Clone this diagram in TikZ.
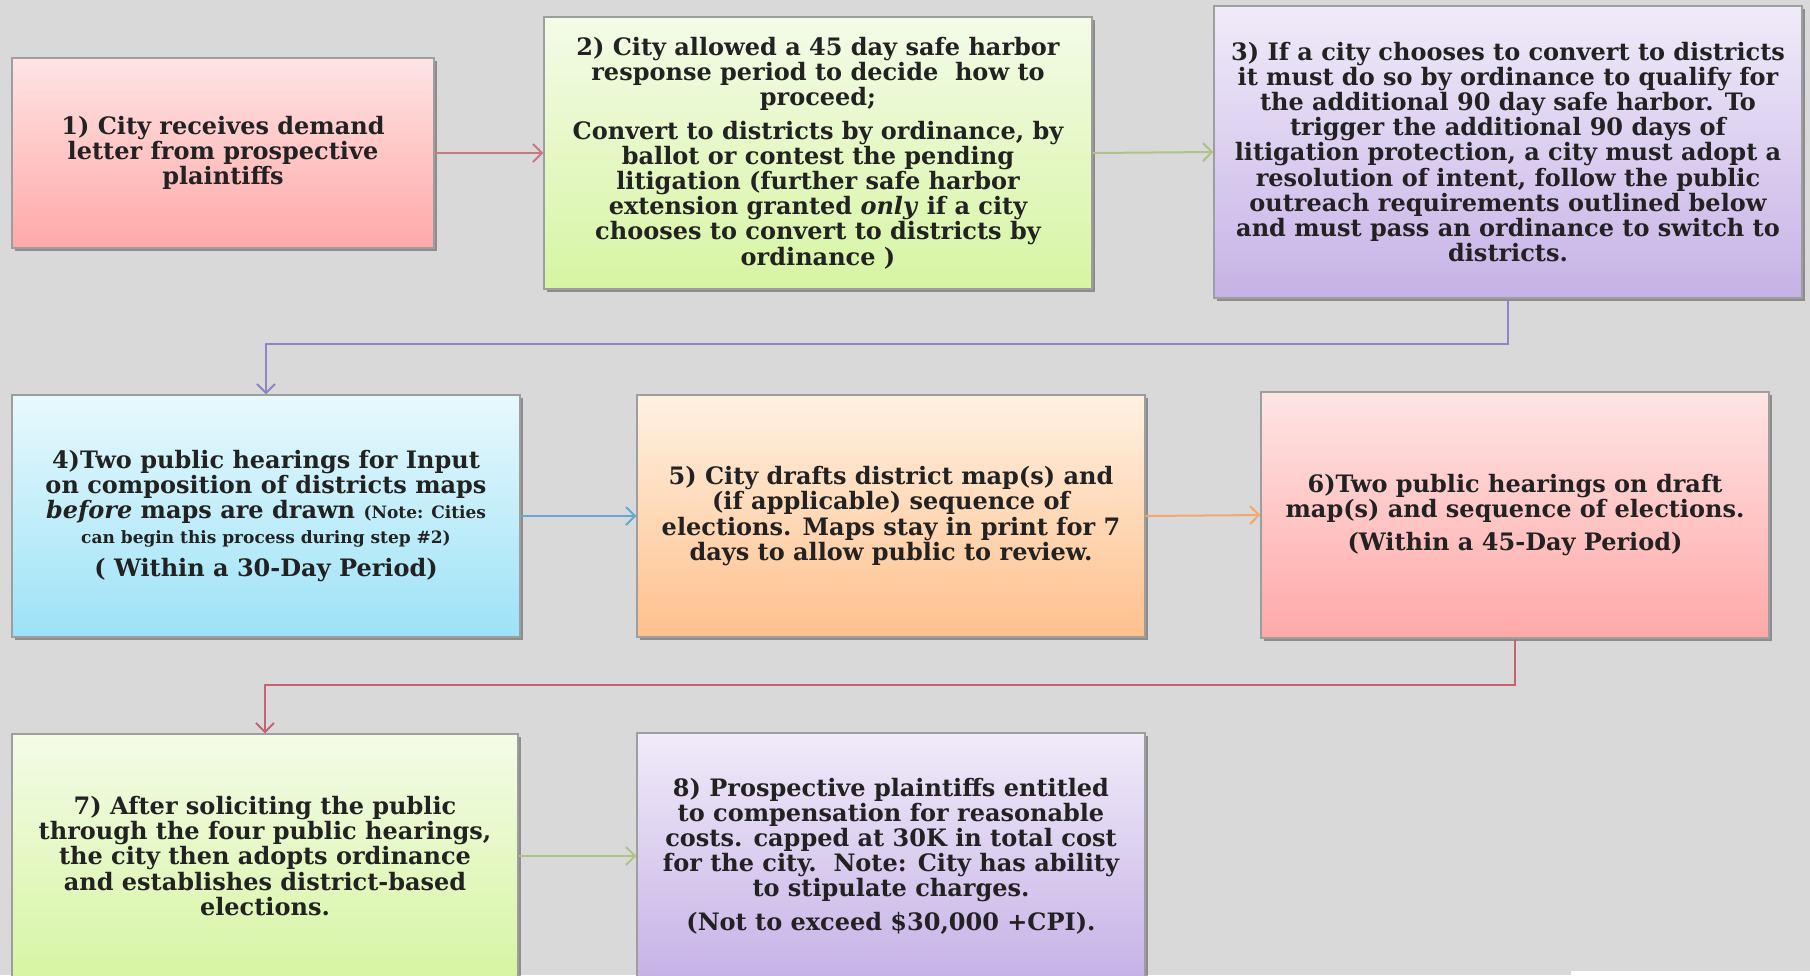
\documentclass[tikz,border=0pt]{standalone}
\usepackage{fontspec}
\setmainfont{DejaVu Serif}
\usetikzlibrary{arrows.meta,shadows}
\definecolor{bg}{HTML}{D9D9D9}
\definecolor{txt}{HTML}{222222}
\definecolor{pinkT}{HTML}{FFE4E4}
\definecolor{pinkB}{HTML}{FFA8A8}
\definecolor{greenT}{HTML}{F4FBE8}
\definecolor{greenB}{HTML}{D6F5A2}
\definecolor{purpT}{HTML}{F0EBF9}
\definecolor{purpB}{HTML}{C6B2E6}
\definecolor{cyanT}{HTML}{E8F9FD}
\definecolor{cyanB}{HTML}{9CE2F7}
\definecolor{orangeT}{HTML}{FFF1E2}
\definecolor{orangeB}{HTML}{FFC08C}
\definecolor{aRed}{HTML}{C8787E}
\definecolor{aGreen}{HTML}{AFC28A}
\definecolor{aPurp}{HTML}{8A86C8}
\definecolor{aBlue}{HTML}{5FA9D2}
\definecolor{aOrange}{HTML}{F2A970}
\definecolor{aRed2}{HTML}{C8626F}
\tikzset{
  stepbox/.style={rectangle, draw=black!38, line width=0.6pt, align=center,
    inner sep=0pt, text=txt, font=\fontsize{12}{12.6}\selectfont\bfseries,
    drop shadow={shadow xshift=1.5pt, shadow yshift=-1.5pt, opacity=0.35, fill=black}},
  pinkbox/.style={stepbox, top color=pinkT, bottom color=pinkB},
  greenbox/.style={stepbox, top color=greenT, bottom color=greenB},
  purpbox/.style={stepbox, top color=purpT, bottom color=purpB},
  cyanbox/.style={stepbox, top color=cyanT, bottom color=cyanB},
  orangebox/.style={stepbox, top color=orangeT, bottom color=orangeB},
  conn/.style={line width=1pt, -{Straight Barb[length=4.5pt,width=9pt]}},
}
\begin{document}
\begin{tikzpicture}[x=0.5pt,y=-0.5pt]
\useasboundingbox (0,0) rectangle (1810,975);
\fill[bg] (0,0) rectangle (1810,975);
\clip (0,0) rectangle (1810,975);
\fill[white] (1571,971) rectangle (1810,975);

\node[pinkbox, minimum width=211pt, minimum height=95pt] (b1) at (223,153)
  {1) City receives demand\\ letter from prospective\\ plaintiffs};
\node[greenbox, minimum width=274pt, minimum height=136pt] (b2) at (818,153)
  {2) City allowed a 45 day safe harbor\\ response period to decide\ \ how to\\ proceed;\\[4pt]
   Convert to districts by ordinance, by\\ ballot or contest the pending\\ litigation (further safe harbor\\
   extension granted \textit{only} if a city\\ chooses to convert to districts by\\ ordinance )};
\node[purpbox, minimum width=294pt, minimum height=146pt] (b3) at (1508,152)
  {3) If a city chooses to convert to districts\\ it must do so by ordinance to qualify for\\
   the additional 90 day safe harbor. To\\ trigger the additional 90 days of\\
   litigation protection, a city must adopt a\\ resolution of intent, follow the public\\
   outreach requirements outlined below\\ and must pass an ordinance to switch to\\ districts.};
\node[cyanbox, minimum width=254pt, minimum height=121pt] (b4) at (266,516)
  {4)Two public hearings for Input\\ on composition of districts maps\\
   \textit{before} maps are drawn {\fontsize{8.5}{9}\selectfont (Note: Cities}\\
   {\fontsize{8.5}{9}\selectfont can begin this process during step \#2)}\\[4pt]
   ( Within a 30-Day Period)};
\node[orangebox, minimum width=254pt, minimum height=121pt] (b5) at (891,516)
  {5) City drafts district map(s) and\\ (if applicable) sequence of\\
   elections. Maps stay in print for 7\\ days to allow public to review.};
\node[pinkbox, minimum width=254pt, minimum height=123pt] (b6) at (1515,515)
  {6)Two public hearings on draft\\ map(s) and sequence of elections.\\[4pt] (Within a 45-Day Period)};
\node[greenbox, minimum width=253pt, minimum height=122pt] (b7) at (265,856)
  {7) After soliciting the public\\ through the four public hearings,\\ the city then adopts ordinance\\
   and establishes district-based\\ elections.};
\node[purpbox, minimum width=254pt, minimum height=123pt] (b8) at (891,856)
  {8) Prospective plaintiffs entitled\\ to compensation for reasonable\\ costs. capped at 30K in total cost\\
   for the city.\ \ Note: City has ability\\ to stipulate charges.\\[4pt] (Not to exceed \$30,000 +CPI).};

\draw[conn, aRed] (b1.east) -- (b2.west);
\draw[conn, aGreen] (b2.east) -- (b3.west);
\coordinate (k3) at (1508,344);
\draw[conn, aPurp] (b3.south) -- (k3) -| (b4.north);
\draw[conn, aBlue] (b4.east) -- (b5.west);
\draw[conn, aOrange] (b5.east) -- (b6.west);
\coordinate (k6) at (1515,685);
\draw[conn, aRed2] (b6.south) -- (k6) -| (b7.north);
\draw[conn, aGreen] (b7.east) -- (b8.west);
\end{tikzpicture}
\end{document}
